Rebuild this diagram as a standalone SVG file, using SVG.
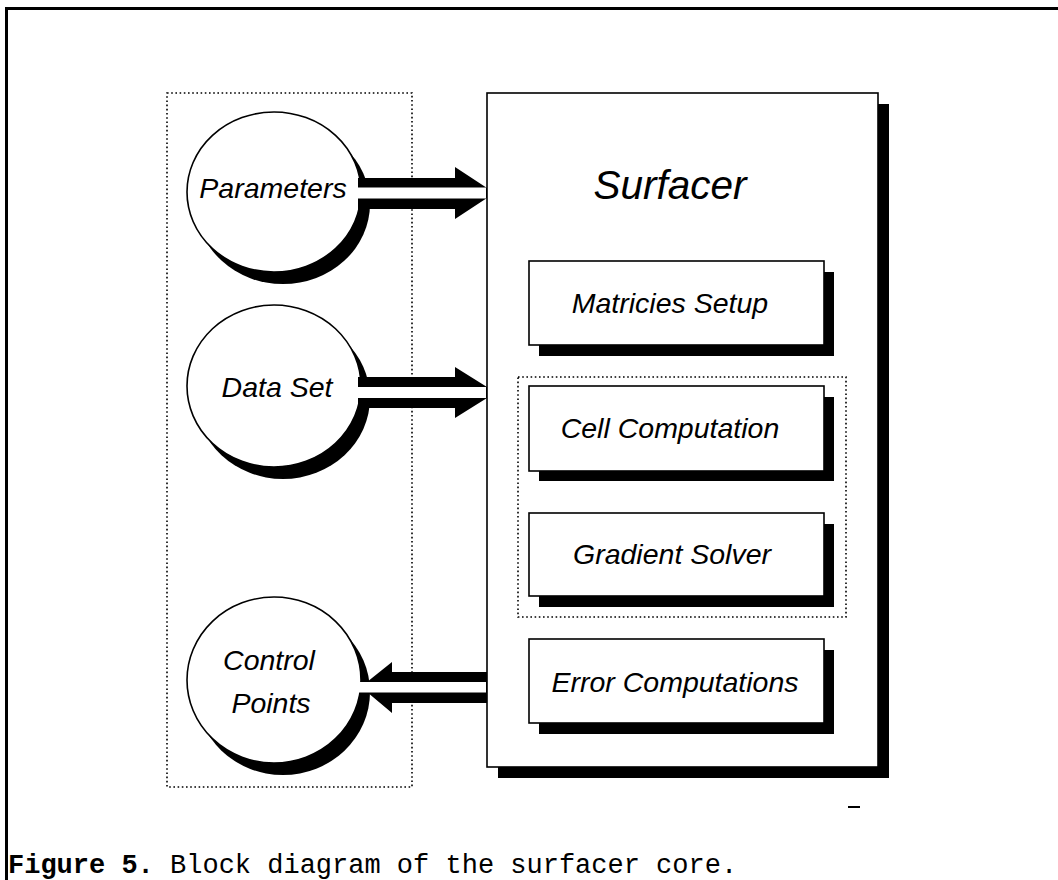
<svg xmlns="http://www.w3.org/2000/svg" width="1058" height="880" viewBox="0 0 1058 880">
<style>
.frame{fill:none;stroke:#000;stroke-width:3}
.dotted{fill:none;stroke:#000;stroke-width:1.6;stroke-dasharray:1.6 2.6}
.shadow{fill:#000;stroke:none}
.body{fill:#fff;stroke:#000;stroke-width:1.6}
.lbl{font-family:"Liberation Sans",Arial,sans-serif;font-style:italic;font-size:28.5px;fill:#000;text-anchor:middle}
.big{font-size:40.5px}
.arrow{fill:#000;stroke:none}
.gap{fill:#fff;stroke:none}
.cap{font-family:"Liberation Mono","Courier New",monospace;font-size:27px;fill:#000}
</style>
<rect x="0" y="0" width="1058" height="880" fill="#fff"/>
<path class="frame" d="M6.5 880 V8.5 H1058"/>

<g id="input-group">
<rect class="dotted" x="167" y="93" width="245" height="694"/>
</g>

<g id="surfacer">
<rect class="shadow" x="498" y="104" width="391" height="674"/>
<rect class="body" x="487" y="93" width="391" height="674"/>
<text class="lbl big" x="670" y="199">Surfacer</text>
</g>

<g id="solver-group">
<rect class="dotted" x="518" y="377" width="328" height="240"/>
</g>

<g id="matricies-setup">
<rect class="shadow" x="539" y="272" width="295" height="84"/>
<rect class="body" x="529" y="261" width="295" height="84"/>
<text class="lbl" x="670" y="313">Matricies Setup</text>
</g>

<g id="cell-computation">
<rect class="shadow" x="539" y="397" width="295" height="84"/>
<rect class="body" x="529" y="386" width="295" height="85"/>
<text class="lbl" x="670" y="438">Cell Computation</text>
</g>

<g id="gradient-solver">
<rect class="shadow" x="539" y="524" width="295" height="83"/>
<rect class="body" x="529" y="513" width="295" height="83"/>
<text class="lbl" x="672" y="564">Gradient Solver</text>
</g>

<g id="error-computations">
<rect class="shadow" x="539" y="650" width="295" height="84"/>
<rect class="body" x="529" y="639" width="295" height="84"/>
<text class="lbl" x="675" y="692">Error Computations</text>
</g>

<g id="parameters">
<ellipse class="shadow" cx="283" cy="204" rx="87" ry="80"/>
<ellipse class="body" cx="274" cy="192" rx="87" ry="80"/>
<text class="lbl" x="273" y="198">Parameters</text>
</g>

<g id="data-set">
<ellipse class="shadow" cx="283" cy="398" rx="87" ry="81"/>
<ellipse class="body" cx="274" cy="386" rx="87" ry="81"/>
<text class="lbl" x="277" y="397">Data Set</text>
</g>

<g id="control-points">
<ellipse class="shadow" cx="283" cy="692" rx="87" ry="83"/>
<ellipse class="body" cx="274" cy="680" rx="87" ry="83"/>
<text class="lbl" x="269" y="670">Control</text>
<text class="lbl" x="271" y="713">Points</text>
</g>

<g id="connectors">
<polygon class="arrow" points="358,178 455,178 455,167 487,188 487,198 455,219 455,209 358,209"/>
<rect class="gap" x="354" y="187.5" width="132" height="11"/>
<polygon class="arrow" points="358,377 455,377 455,367 487,387 487,398 455,418 455,408 358,408"/>
<rect class="gap" x="354" y="387" width="132" height="11"/>
<polygon class="arrow" points="487,672 392,672 392,662 367,682 367,692 392,713 392,703 487,703"/>
<rect class="gap" x="358" y="682" width="128" height="10.5"/>
</g>

<line x1="848" y1="807" x2="860" y2="807" stroke="#000" stroke-width="2"/>
<text class="cap" x="8" y="873"><tspan font-weight="bold">Figure 5.</tspan> Block diagram of the surfacer core.</text>
</svg>
